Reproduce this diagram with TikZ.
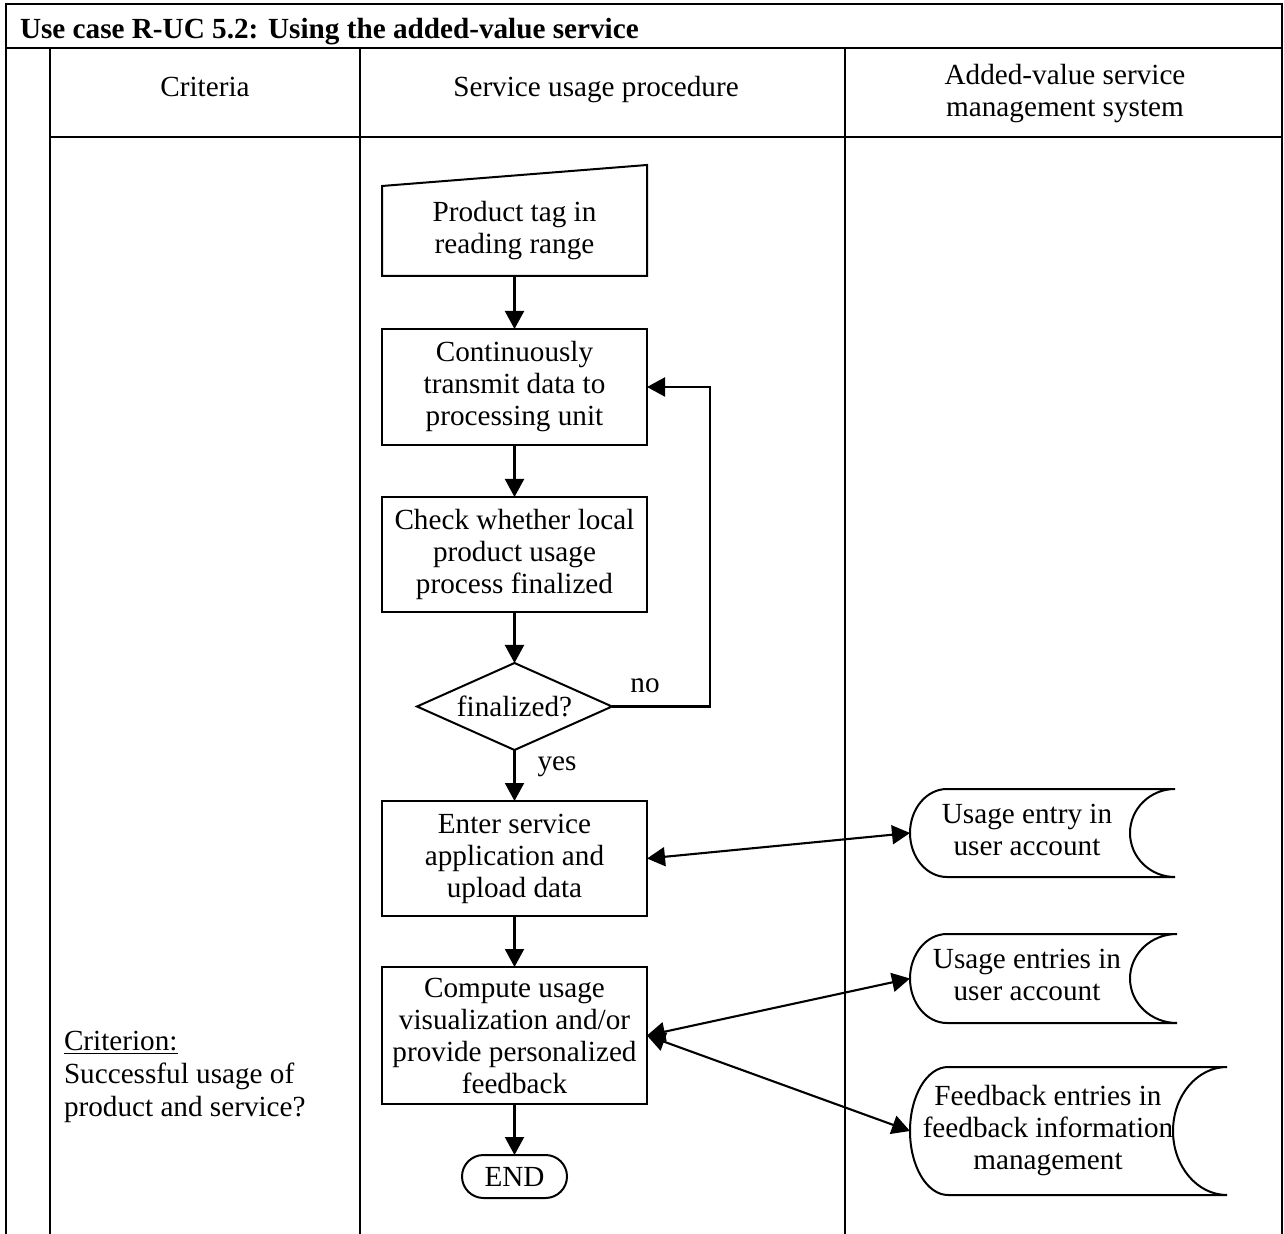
\documentclass[tikz,border=0pt]{standalone}
\usepackage{fontspec}
\setmainfont{Liberation Serif}
\usetikzlibrary{shapes.geometric,shapes.misc,arrows.meta}

% outline of a "stored data" symbol around a rectangular node:
% #1 node, #2 left bulge radius, #3 right hollow radius, #4 half height
\newcommand\storeshape[4]{%
  \draw[outline] ([xshift=#2]#1.north west) -- (#1.north east)
    arc[start angle=90,end angle=270,x radius=#3,y radius=#4]
    -- ([xshift=#2]#1.south west)
    arc[start angle=270,end angle=90,x radius=#2,y radius=#4] -- cycle;}

\begin{document}
\begin{tikzpicture}[x=0.5pt,y=-0.5pt,
  every node/.style={font=\fontsize{14.6pt}{16pt}\selectfont, inner sep=0pt, outer sep=0pt},
  grid/.style={line width=1pt},
  outline/.style={draw, line width=1pt},
  box/.style={draw, line width=1pt, rectangle, minimum width=132.5pt, align=center},
  tip/.tip={Triangle[length=9pt,width=9.5pt]},
  flow/.style={line width=1.05pt, -tip},
  both/.style={line width=1.05pt, tip-tip},
  store/.style={rectangle, align=center},
]
\useasboundingbox (0,0) rectangle (1284,1234);
\fill[white] (0,0) rectangle (1284,1234);

% table frame
\draw[grid] (6,1234) -- (6,4) -- (1282,4) -- (1282,1234);
\draw[grid] (6,48) -- (1282,48);
\draw[grid] (50,48) -- (50,1234);
\draw[grid] (50,137) -- (1282,137);
\draw[grid] (360,48) -- (360,1234);
\draw[grid] (845,48) -- (845,1234);

% title and column heads
\node[anchor=base west, font=\fontsize{14.6pt}{16pt}\selectfont\bfseries] (title) at (20,39)
  {Use case R-UC 5.2: Using the added-value service};
\node[anchor=base] (hcrit) at (205,97) {Criteria};
\node[anchor=base] (hproc) at (596,97) {Service usage procedure};
\node[align=center] (hsys) at (1065,94) {Added-value service\\management system};

% criterion column
\node[anchor=north west, align=left] (crit) at (64,1031)
  {\underline{Criterion:}\\[0.5pt]Successful usage of\\[0.5pt]product and service?};

% process column
\node[box, draw=none, minimum height=45pt] (b1) at (514.5,231) {Product tag in\\reading range};
\draw[outline] (b1.south west) -- (b1.north west) -- ([yshift=10.5pt]b1.north east) -- (b1.south east) -- cycle;
\node[box, minimum height=58pt] (b2) at (514.5,387) {Continuously\\transmit data to\\processing unit};
\node[box, minimum height=57.5pt] (b3) at (514.5,554.5) {Check whether local\\product usage\\process finalized};
\node[draw, diamond, aspect=2.2, minimum width=97.5pt, minimum height=43.5pt, line width=1pt]
  (dia) at (514.5,706.5) {finalized?};
\node[box, minimum height=57.5pt] (b4) at (514.5,858.5) {Enter service\\application and\\upload data};
\node[box, minimum height=68.5pt] (b5) at (514.5,1035.5) {Compute usage\\visualization and/or\\provide personalized\\feedback};
\node[draw, rounded rectangle, minimum width=52.5pt, minimum height=21.5pt, line width=1pt]
  (fin) at (514.5,1176.5) {END};

% management system column
\node[store, minimum width=132.5pt, minimum height=44pt] (s1) at (1042.5,833)
  {\begin{tabular}{@{}c@{\hspace{15.5pt}}}Usage entry in\\user account\end{tabular}};
\storeshape{s1}{18.5pt}{22.5pt}{22pt}
\node[store, minimum width=133.5pt, minimum height=44.5pt] (s2) at (1043.5,978.5)
  {\begin{tabular}{@{}c@{\hspace{16.5pt}}}Usage entries in\\user account\end{tabular}};
\storeshape{s2}{18.5pt}{23.5pt}{22.25pt}
\node[store, minimum width=158.5pt, minimum height=64pt] (s3) at (1068.5,1131)
  {\begin{tabular}{@{}c@{\hspace{20.5pt}}}Feedback entries in\\feedback information\\management\end{tabular}};
\storeshape{s3}{19pt}{27pt}{32pt}

% flow
\draw[flow] (b1.south) -- (b2.north);
\draw[flow] (b2.south) -- (b3.north);
\draw[flow] (b3.south) -- (dia.north);
\draw[flow] (dia.south) -- (b4.north);
\node (yes) at (557,767) {yes};
\draw[flow] (dia.east) -- ++(98,0) coordinate (loop) |- (b2.east);
\node (no) at (645,686) {no};
\draw[flow] (b4.south) -- (b5.north);
\draw[flow] (b5.south) -- (fin.north);

% data exchange
\draw[both] (b4.east) -- (s1.west);
\draw[both] (b5.east) -- (s2.west);
\draw[both] (b5.east) -- (s3.west);
\end{tikzpicture}
\end{document}
